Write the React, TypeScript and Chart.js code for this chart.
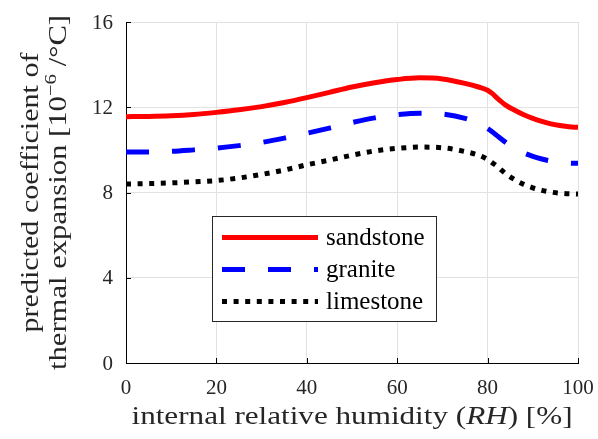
import React, { useEffect, useRef } from "react";
import { Chart, registerables } from "chart.js";

Chart.register(...registerables);

// ---------- data ----------
const RH = [0, 5, 10, 15, 20, 25, 30, 35, 40, 45, 50, 55, 60, 65, 70, 75, 78, 80, 81, 82, 84, 86, 88, 90, 92, 94, 96, 98, 100];
const SANDSTONE = [11.56, 11.57, 11.6, 11.66, 11.76, 11.88, 12.03, 12.22, 12.45, 12.7, 12.95, 13.15, 13.3, 13.38, 13.33, 13.12, 12.95, 12.8, 12.65, 12.45, 12.1, 11.86, 11.65, 11.48, 11.34, 11.22, 11.14, 11.08, 11.06];
const GRANITE = [9.9, 9.9, 9.93, 10.0, 10.08, 10.2, 10.35, 10.55, 10.78, 11.02, 11.28, 11.5, 11.65, 11.72, 11.68, 11.48, 11.25, 11.0, 10.85, 10.68, 10.35, 10.08, 9.86, 9.7, 9.57, 9.48, 9.42, 9.38, 9.37];
const LIMESTONE = [8.4, 8.42, 8.45, 8.5, 8.56, 8.68, 8.85, 9.05, 9.3, 9.52, 9.75, 9.95, 10.07, 10.13, 10.1, 9.92, 9.75, 9.55, 9.4, 9.25, 8.88, 8.6, 8.38, 8.22, 8.1, 8.02, 7.97, 7.94, 7.93];
const SERIES_LABELS = ["sandstone", "granite", "limestone"];
const X_TICKS = [0, 20, 40, 60, 80, 100];
const Y_TICKS = [0, 4, 8, 12, 16];
const X_TICK_LABELS = ["0", "20", "40", "60", "80", "100"];
const Y_TICK_LABELS = ["0", "4", "8", "12", "16"];

// ---------- styles ----------
const COLORS = ["#ff0000", "#0000ff", "#000000"];
const DASHES: number[][] = [[], [23, 23], [5, 6.6]];
const LINE_W = 5;
const SERIF = "'Liberation Serif', 'Times New Roman', serif";
const TICK_FONT = `21px ${SERIF}`;
const TITLE_FONT = `25px ${SERIF}`;
const TITLE_IT = `italic 25px ${SERIF}`;
const SUP_FONT = `17px ${SERIF}`;
const LEGEND_FONT = `25px ${SERIF}`;
const GRID = "#e2e2e2";

type Run = { t: string; f: string; dy?: number };

function drawRuns(ctx: CanvasRenderingContext2D, runs: Run[], targetW: number) {
  let w = 0;
  for (const r of runs) {
    ctx.font = r.f;
    w += ctx.measureText(r.t).width;
  }
  const s = targetW / w;
  ctx.scale(s, 1);
  let x = -w / 2;
  ctx.textAlign = "left";
  ctx.textBaseline = "alphabetic";
  for (const r of runs) {
    ctx.font = r.f;
    ctx.fillText(r.t, x, r.dy || 0);
    x += ctx.measureText(r.t).width;
  }
}

const decorPlugin = {
  id: "decor",
  afterDraw(chart: any) {
    const ctx: CanvasRenderingContext2D = chart.ctx;
    const xs = chart.scales.x;
    const ys = chart.scales.y;
    const area = chart.chartArea;
    ctx.save();
    // inward ticks
    ctx.strokeStyle = "#000";
    ctx.lineWidth = 1;
    ctx.beginPath();
    for (const v of Y_TICKS) {
      const py = Math.round(ys.getPixelForValue(v)) + 0.5;
      ctx.moveTo(area.left, py);
      ctx.lineTo(area.left + 5, py);
    }
    for (const v of X_TICKS) {
      const px = Math.round(xs.getPixelForValue(v)) + 0.5;
      ctx.moveTo(px, area.bottom);
      ctx.lineTo(px, area.bottom - 5);
    }
    ctx.stroke();

    // tick labels
    ctx.fillStyle = "#262626";
    ctx.font = TICK_FONT;
    ctx.textAlign = "right";
    ctx.textBaseline = "middle";
    Y_TICKS.forEach((v, i) => {
      ctx.fillText(Y_TICK_LABELS[i], area.left - 13, ys.getPixelForValue(v) + 1);
    });
    ctx.textAlign = "center";
    X_TICKS.forEach((v, i) => {
      ctx.fillText(X_TICK_LABELS[i], xs.getPixelForValue(v), area.bottom + 25);
    });

    // x title
    ctx.save();
    ctx.translate((area.left + area.right) / 2, 424);
    drawRuns(ctx, [
      { t: "internal relative humidity (", f: TITLE_FONT },
      { t: "RH", f: TITLE_IT },
      { t: ") [%]", f: TITLE_FONT },
    ], 441);
    ctx.restore();

    // y title (two lines)
    const cy = (area.top + area.bottom) / 2;
    ctx.save();
    ctx.translate(38, cy);
    ctx.rotate(-Math.PI / 2);
    drawRuns(ctx, [{ t: "predicted coefficient of", f: TITLE_FONT }], 280);
    ctx.restore();
    ctx.save();
    ctx.translate(66, cy);
    ctx.rotate(-Math.PI / 2);
    drawRuns(ctx, [
      { t: "thermal expansion [10", f: TITLE_FONT },
      { t: "\u22126", f: SUP_FONT, dy: -10 },
      { t: " /\u00b0C]", f: TITLE_FONT },
    ], 355);
    ctx.restore();

    // legend
    const bx = 212.5, by = 216.5, bw = 224, bh = 105;
    ctx.fillStyle = "#ffffff";
    ctx.fillRect(bx, by, bw, bh);
    ctx.strokeStyle = "#262626";
    ctx.lineWidth = 1;
    ctx.setLineDash([]);
    ctx.strokeRect(bx, by, bw, bh);
    const rows = [237.5, 269.5, 301.5];
    SERIES_LABELS.forEach((lab, i) => {
      ctx.save();
      ctx.strokeStyle = COLORS[i];
      ctx.lineWidth = LINE_W;
      ctx.lineCap = "butt";
      ctx.setLineDash(DASHES[i]);
      ctx.beginPath();
      ctx.moveTo(222, rows[i]);
      ctx.lineTo(318, rows[i]);
      ctx.stroke();
      ctx.restore();
      ctx.fillStyle = "#000";
      ctx.font = LEGEND_FONT;
      ctx.textAlign = "left";
      ctx.textBaseline = "middle";
      ctx.fillText(lab, 326, rows[i] + 1);
    });
    ctx.restore();
  },
};

export default function App() {
  const ref = useRef<HTMLCanvasElement>(null);
  useEffect(() => {
    if (!ref.current) return;
    const series = [SANDSTONE, GRANITE, LIMESTONE];
    const chart = new Chart(ref.current, {
      type: "line",
      data: {
        datasets: series.map((vals, i) => ({
          label: SERIES_LABELS[i],
          data: RH.map((x, j) => ({ x, y: vals[j] })),
          borderColor: COLORS[i],
          backgroundColor: COLORS[i],
          borderWidth: LINE_W,
          borderDash: DASHES[i],
          borderCapStyle: "butt",
          cubicInterpolationMode: "monotone",
          pointRadius: 0,
          fill: false,
        })),
      },
      options: {
        animation: false,
        responsive: false,
        devicePixelRatio: 1,
        layout: { padding: { top: 22, right: 20, left: 0, bottom: 0 } },
        plugins: { legend: { display: false }, tooltip: { enabled: false } },
        scales: {
          x: {
            type: "linear",
            min: 0,
            max: 100,
            afterBuildTicks: (s: any) => { s.ticks = X_TICKS.map((v) => ({ value: v })); },
            afterFit: (s: any) => { s.height = 76; },
            ticks: { display: false },
            grid: { color: GRID, drawTicks: false, lineWidth: 1 },
            border: { color: "#000", width: 1 },
          },
          y: {
            type: "linear",
            min: 0,
            max: 16,
            afterBuildTicks: (s: any) => { s.ticks = Y_TICKS.map((v) => ({ value: v })); },
            afterFit: (s: any) => { s.width = 126; },
            ticks: { display: false },
            grid: { color: GRID, drawTicks: false, lineWidth: 1 },
            border: { color: "#000", width: 1 },
          },
        },
      } as any,
      plugins: [decorPlugin],
    });
    return () => chart.destroy();
  }, []);
  return (
    <div style={{ position: "fixed", left: 0, top: 0, width: 598, height: 439, background: "#fff" }}>
      <canvas ref={ref} width={598} height={439} style={{ display: "block" }} />
    </div>
  );
}
